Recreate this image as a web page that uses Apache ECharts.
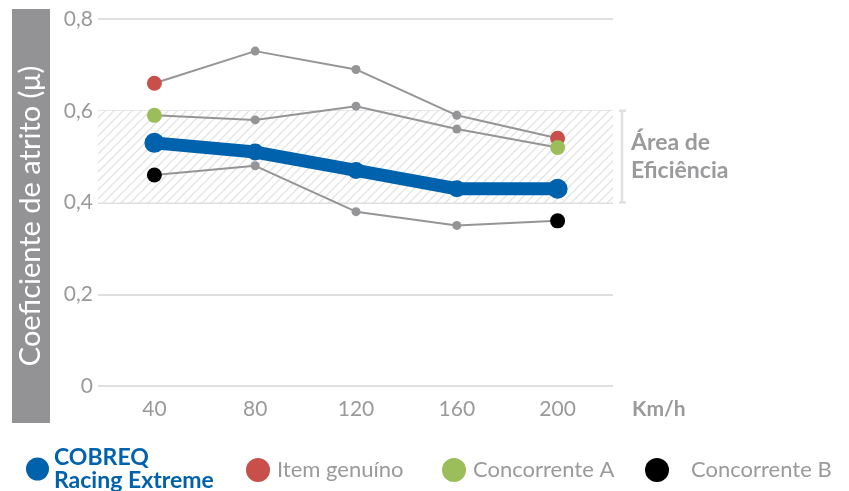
<!DOCTYPE html>
<html><head><meta charset="utf-8">
<script src="https://cdn.jsdelivr.net/npm/echarts@6/dist/echarts.min.js"></script>
<style>html,body{margin:0;padding:0;background:#fff}#c{width:849px;height:491px}</style>
</head><body><div id="c"></div>
<script>
var categories = ['40', '80', '120', '160', '200'];
var cobreq = [0.53, 0.51, 0.47, 0.43, 0.43];
var itemGenuino = [0.66, 0.73, 0.69, 0.59, 0.54];
var concorrenteA = [0.59, 0.58, 0.61, 0.56, 0.52];
var concorrenteB = [0.46, 0.48, 0.38, 0.35, 0.36];
var efficiencyBand = [0.4, 0.6];

var FONT = 'Lato, "Noto Sans", sans-serif';
var GRAY = '#9a9a9c';
var GRID_LINE = '#e0e0e0';

function hatch() {
  var c = document.createElement('canvas');
  c.width = 9; c.height = 9;
  var g = c.getContext('2d');
  g.fillStyle = '#ffffff'; g.fillRect(0, 0, 9, 9);
  g.strokeStyle = '#e4e4e4'; g.lineWidth = 1.4;
  g.beginPath();
  g.moveTo(-1, 10); g.lineTo(10, -1);
  g.moveTo(-1, 1); g.lineTo(1, -1);
  g.moveTo(8, 10); g.lineTo(10, 8);
  g.stroke();
  return c;
}

function grayData(vals, color) {
  return vals.map(function (v, i) {
    var end = (i === 0 || i === vals.length - 1);
    return { value: v, symbolSize: end ? 15 : 9, itemStyle: { color: end ? color : '#959597' } };
  });
}

function blueData(vals) {
  return vals.map(function (v, i) {
    var end = (i === 0 || i === vals.length - 1);
    return { value: v, symbolSize: end ? 20 : 17 };
  });
}

var chart = echarts.init(document.getElementById('c'));

function legend(name, left, style, extra) {
  return Object.assign({
    data: [name], left: left, top: 453, icon: 'circle', itemWidth: 24, itemHeight: 24,
    selectedMode: false, textStyle: Object.assign({ fontFamily: FONT }, style)
  }, extra || {});
}

var option = {
  animation: false,
  backgroundColor: '#fff',
  grid: [
    { left: 98, right: 236, top: 19, bottom: 105 },
    { left: 104, right: 241, top: 19, bottom: 105 }
  ],
  xAxis: [
    { type: 'value', gridIndex: 0, min: 0, max: 1, show: false },
    {
      type: 'category', gridIndex: 1, data: categories, boundaryGap: true,
      axisLine: { show: false }, axisTick: { show: false },
      axisLabel: { color: GRAY, fontSize: 21, fontFamily: FONT, margin: 13 },
      name: 'Km/h', nameLocation: 'end', nameGap: 24,
      nameTextStyle: { color: GRAY, fontSize: 21, fontWeight: 'bold', fontFamily: FONT, verticalAlign: 'top', padding: [13, 0, 0, 0] }
    }
  ],
  yAxis: [
    {
      type: 'value', gridIndex: 0, min: 0, max: 0.8, interval: 0.2,
      axisLine: { show: false }, axisTick: { show: false },
      splitLine: { lineStyle: { color: GRID_LINE, width: 2 } },
      axisLabel: {
        color: GRAY, fontSize: 21, fontFamily: FONT, margin: 5,
        formatter: function (v) { return String(+(+v).toFixed(1)).replace('.', ','); }
      }
    },
    { type: 'value', gridIndex: 1, min: 0, max: 0.8, interval: 0.2, show: false, splitLine: { show: false } }
  ],
  legend: [
    legend('COBREQ Racing Extreme', 21, { color: '#0062ad', fontSize: 23, fontWeight: 'bold', lineHeight: 23 },
      { formatter: function () { return 'COBREQ\nRacing Extreme'; }, top: 441, itemWidth: 23, itemHeight: 23 }),
    legend('Item genuíno', 241, { color: GRAY, fontSize: 22, padding: [0, 0, 0, 2] }),
    legend('Concorrente A', 437, { color: GRAY, fontSize: 22, padding: [0, 0, 0, 2] }),
    legend('Concorrente B', 640, { color: GRAY, fontSize: 22, padding: [0, 0, 0, 17] })
  ],
  series: [
    {
      name: 'band', type: 'line', xAxisIndex: 0, yAxisIndex: 0, data: [], silent: true,
      markArea: {
        silent: true,
        itemStyle: { color: { image: hatch(), repeat: 'repeat' } },
        data: [[{ yAxis: efficiencyBand[0] }, { yAxis: efficiencyBand[1] }]]
      }
    },
    {
      name: 'Item genuíno', type: 'line', xAxisIndex: 1, yAxisIndex: 1, symbol: 'circle',
      data: grayData(itemGenuino, '#c9504a'), itemStyle: { color: '#c9504a' },
      lineStyle: { color: '#959597', width: 2 }, z: 3
    },
    {
      name: 'Concorrente A', type: 'line', xAxisIndex: 1, yAxisIndex: 1, symbol: 'circle',
      data: grayData(concorrenteA, '#9bbd5a'), itemStyle: { color: '#9bbd5a' },
      lineStyle: { color: '#959597', width: 2 }, z: 3
    },
    {
      name: 'Concorrente B', type: 'line', xAxisIndex: 1, yAxisIndex: 1, symbol: 'circle',
      data: grayData(concorrenteB, '#000000'), itemStyle: { color: '#000000' },
      lineStyle: { color: '#959597', width: 2 }, z: 3
    },
    {
      name: 'COBREQ Racing Extreme', type: 'line', xAxisIndex: 1, yAxisIndex: 1, symbol: 'circle',
      data: blueData(cobreq), itemStyle: { color: '#0062ad' },
      lineStyle: { color: '#0062ad', width: 13 }, z: 5
    }
  ]
};
chart.setOption(option);

var top6 = chart.convertToPixel({ gridIndex: 0 }, [1, efficiencyBand[1]]);
var bot4 = chart.convertToPixel({ gridIndex: 0 }, [1, efficiencyBand[0]]);
var bx = top6[0] + 9;
var lc = { stroke: GRID_LINE, lineWidth: 2.5 };
chart.setOption({
  graphic: [
    { type: 'rect', shape: { x: 12, y: 9, width: 38, height: 414 }, style: { fill: '#939396' }, z: 0 },
    {
      type: 'text', x: 31, y: 216, rotation: Math.PI / 2,
      style: { text: 'Coeficiente de atrito (μ)', fill: '#ffffff', font: '29px ' + FONT, align: 'center', verticalAlign: 'middle' }, z: 1
    },
    { type: 'line', shape: { x1: bx, y1: top6[1], x2: bx, y2: bot4[1] }, style: lc },
    { type: 'line', shape: { x1: bx - 3, y1: top6[1], x2: bx + 4, y2: top6[1] }, style: lc },
    { type: 'line', shape: { x1: bx - 3, y1: bot4[1], x2: bx + 4, y2: bot4[1] }, style: lc },
    {
      type: 'text', x: bx + 9, y: (top6[1] + bot4[1]) / 2,
      style: { text: 'Área de\nEficiência', fill: GRAY, font: 'bold 23px ' + FONT, lineHeight: 28, verticalAlign: 'middle', align: 'left' }
    }
  ]
});
</script></body></html>
